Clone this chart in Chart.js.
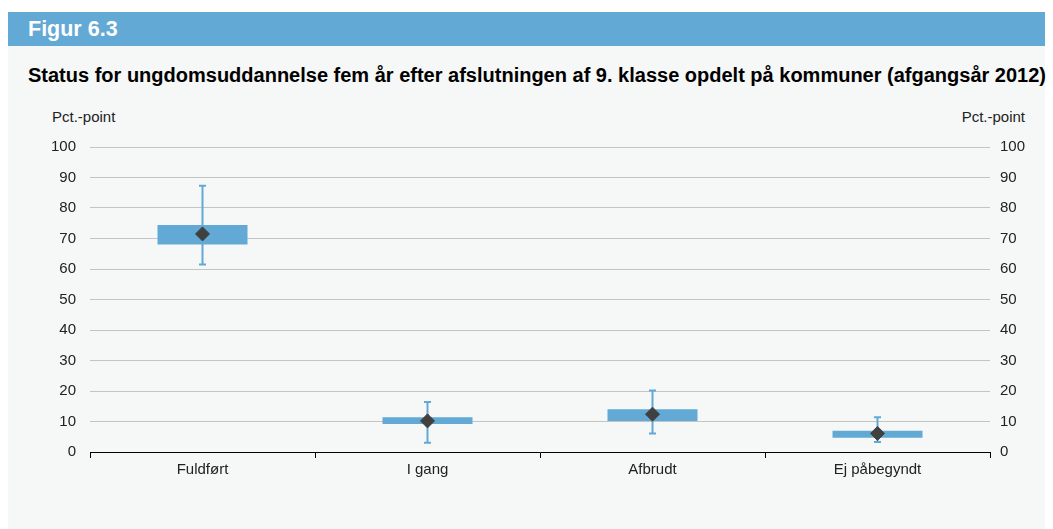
<!DOCTYPE html>
<html>
<head>
<meta charset="utf-8">
<script src="https://cdn.jsdelivr.net/npm/chart.js@4"></script>
<style>
  html, body { margin: 0; padding: 0; background: #ffffff; }
  body { width: 1053px; height: 529px; position: relative; overflow: hidden; font-family: "Liberation Sans", Arial, sans-serif; }
  #header { position: absolute; left: 8px; top: 12px; width: 1037px; height: 34px; background: #63a9d5; color: #fff; font-weight: bold; font-size: 21.5px; line-height: 34px; }
  #header span { padding-left: 20px; }
  #panel { position: absolute; left: 8px; top: 46px; width: 1037px; height: 483px; background: #f6f7f7; }
  #title { position: absolute; left: 28px; top: 64px; font-weight: bold; font-size: 20px; color: #000; white-space: nowrap; }
  .unit { position: absolute; top: 108px; font-size: 15px; color: #222; }
  #unitL { left: 52px; }
  #unitR { right: 28px; }
  #wrap { position: absolute; left: 8px; top: 100px; width: 1037px; height: 380px; }
</style>
</head>
<body>
<div id="header"><span>Figur 6.3</span></div>
<div id="panel"></div>
<div id="title">Status for ungdomsuddannelse fem år efter afslutningen af 9. klasse opdelt på kommuner (afgangsår 2012)</div>
<div class="unit" id="unitL">Pct.-point</div>
<div class="unit" id="unitR">Pct.-point</div>
<div id="wrap"><canvas id="boxChart"></canvas></div>

<script>
// data
const categories = ['Fuldført', 'I gang', 'Afbrudt', 'Ej påbegyndt'];
const boxLow = [68.0, 9.2, 10.2, 4.7];
const boxHigh = [74.4, 11.4, 14.0, 7.0];
const meanValue = [71.5, 10.2, 12.4, 6.1];
const whiskerLow = [61.5, 3.0, 6.1, 3.3];
const whiskerHigh = [87.3, 16.4, 20.2, 11.4];
const yTicks = [0, 10, 20, 30, 40, 50, 60, 70, 80, 90, 100];

const blue = '#63a9d5';

// whiskers drawn under the diamonds
const whiskerPlugin = {
    id: 'whiskers',
    afterDatasetDraw(chart, args) {
        if (args.index !== 0) return;
        const { ctx, scales } = chart;
        const x = scales.x, y = scales.y;
        ctx.save();
        ctx.strokeStyle = blue;
        ctx.lineWidth = 2;
        categories.forEach((c, i) => {
            const px = x.getPixelForValue(i);
            const top = y.getPixelForValue(whiskerHigh[i]);
            const bot = y.getPixelForValue(whiskerLow[i]);
            ctx.beginPath();
            ctx.moveTo(px, top); ctx.lineTo(px, bot);
            ctx.moveTo(px - 3.5, top); ctx.lineTo(px + 3.5, top);
            ctx.moveTo(px - 3.5, bot); ctx.lineTo(px + 3.5, bot);
            ctx.stroke();
        });
        ctx.restore();
    }
};

const tickFont = { family: '"Liberation Sans", Arial, sans-serif', size: 15 };

new Chart(document.getElementById('boxChart'), {
    data: {
        labels: categories,
        datasets: [
            {
                type: 'bar',
                data: boxLow.map((v, i) => [v, boxHigh[i]]),
                backgroundColor: blue,
                borderWidth: 0,
                categoryPercentage: 0.4,
                barPercentage: 1.0,
                order: 2
            },
            {
                type: 'line',
                data: meanValue,
                showLine: false,
                pointStyle: 'rectRot',
                pointRadius: 7,
                pointBackgroundColor: '#404040',
                pointBorderColor: '#404040',
                order: 1
            }
        ]
    },
    options: {
        responsive: true,
        maintainAspectRatio: false,
        animation: false,
        layout: { padding: { top: 47, bottom: 0, left: 0, right: 0 } },
        plugins: { legend: { display: false }, tooltip: { enabled: false } },
        scales: {
            x: {
                offset: true,
                grid: { offset: true, drawOnChartArea: false, drawTicks: true, tickLength: 6, color: '#000' },
                border: { color: '#000', width: 1 },
                ticks: { color: '#222', font: tickFont, padding: 3 },
                afterFit: (s) => { s.height = 28; }
            },
            y: {
                position: 'left',
                min: 0, max: 100,
                afterBuildTicks: (s) => { s.ticks = yTicks.map(v => ({ value: v })); },
                grid: { color: '#c4c4c4', drawTicks: false },
                border: { display: false },
                ticks: { color: '#222', font: tickFont, padding: 14 },
                afterFit: (s) => { s.width = 82; }
            },
            y2: {
                position: 'right',
                min: 0, max: 100,
                afterBuildTicks: (s) => { s.ticks = yTicks.map(v => ({ value: v })); },
                grid: { display: false, drawTicks: false },
                border: { display: false },
                ticks: { color: '#222', font: tickFont, padding: 10 },
                afterFit: (s) => { s.width = 55; }
            }
        }
    },
    plugins: [whiskerPlugin]
});
</script>
</body>
</html>
